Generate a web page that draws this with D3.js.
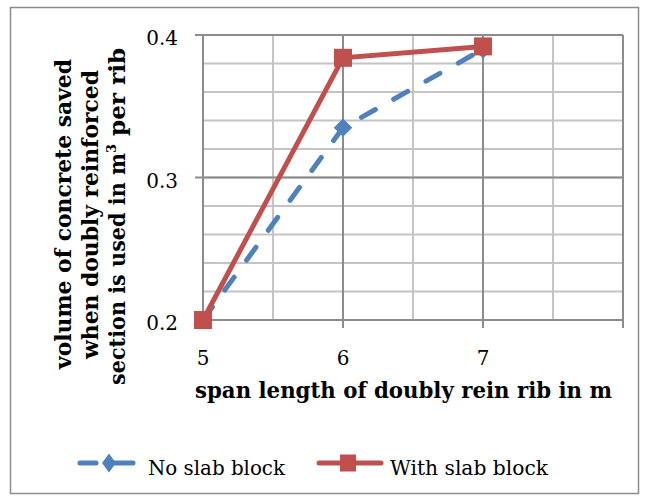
<!DOCTYPE html>
<html>
<head>
<meta charset="utf-8">
<script src="https://cdn.jsdelivr.net/npm/d3@7"></script>
<style>
  body { margin: 0; background: #fff; }
  text { font-family: "DejaVu Serif", "Liberation Serif", serif; fill: #000; }
</style>
</head>
<body>
<svg id="chart" width="645" height="500"></svg>
<script>
// data
var spans = [5, 6, 7];
var noSlab = [0.2, 0.335, 0.39];
var withSlab = [0.2, 0.384, 0.392];
var xTicks = [5, 6, 7, 8];
var xTickLabels = ["5", "6", "7", ""];
var yTicks = [0.2, 0.3, 0.4];
var seriesNames = ["No slab block", "With slab block"];

var svg = d3.select("#chart"),
  margin = { top: 35, left: 203, right: 22, bottom: 180 },
  width = 645 - margin.left - margin.right,
  height = 500 - margin.top - margin.bottom,
  blue = "#4F81BD",
  red = "#C0504D";

// outer frame
svg.append("rect")
  .attr("x", 10.5).attr("y", 7.5)
  .attr("width", 628).attr("height", 486)
  .attr("fill", "none").attr("stroke", "#8c8c8c").attr("stroke-width", 1.5);

var x = d3.scaleLinear().domain([5, 8]).range([0, width]);
var y = d3.scaleLinear().domain([0.2, 0.4]).range([height, 0]);

var g = svg.append("g")
  .attr("transform", "translate(" + margin.left + "," + margin.top + ")");

// minor grid
var minorX = d3.range(5.5, 8, 1), minorY = d3.range(0.22, 0.4, 0.02);
g.selectAll(".minorX").data(minorX).enter().append("line")
  .attr("x1", function(d) { return x(d); }).attr("x2", function(d) { return x(d); })
  .attr("y1", 0).attr("y2", height)
  .attr("stroke", "#c4c4c4").attr("stroke-width", 2);
g.selectAll(".minorY").data(minorY).enter().append("line")
  .attr("x1", 0).attr("x2", width)
  .attr("y1", function(d) { return y(d); }).attr("y2", function(d) { return y(d); })
  .attr("stroke", "#c4c4c4").attr("stroke-width", 2);

// major grid
g.selectAll(".majorX").data(xTicks).enter().append("line")
  .attr("x1", function(d) { return x(d); }).attr("x2", function(d) { return x(d); })
  .attr("y1", 0).attr("y2", height + 8)
  .attr("stroke", "#8c8c8c").attr("stroke-width", 2);
g.selectAll(".majorY").data(yTicks).enter().append("line")
  .attr("x1", -8).attr("x2", width)
  .attr("y1", function(d) { return y(d); }).attr("y2", function(d) { return y(d); })
  .attr("stroke", "#8c8c8c").attr("stroke-width", 2);

// tick labels
g.selectAll(".xl").data(xTicks).enter().append("text")
  .attr("x", function(d) { return x(d); })
  .attr("y", height + 45)
  .attr("text-anchor", "middle")
  .style("font-size", "20px")
  .text(function(d, i) { return xTickLabels[i]; });
g.selectAll(".yl").data(yTicks).enter().append("text")
  .attr("x", -25)
  .attr("y", function(d) { return y(d) + 10; })
  .attr("text-anchor", "end")
  .style("font-size", "20px")
  .text(function(d) { return d3.format(".1f")(d); });

// axis titles
svg.append("text")
  .attr("x", 195).attr("y", 398)
  .attr("textLength", 417).attr("lengthAdjust", "spacingAndGlyphs")
  .style("font-size", "22px").style("font-weight", "bold")
  .text("span length of doubly rein rib in m");

var yt = svg.append("g").attr("transform", "translate(0,214) rotate(-90)");
yt.append("text").attr("x", -155).attr("y", 71)
  .attr("textLength", 310).attr("lengthAdjust", "spacingAndGlyphs")
  .style("font-size", "22px").style("font-weight", "bold")
  .text("volume of concrete  saved");
yt.append("text").attr("x", -145).attr("y", 98)
  .attr("textLength", 289).attr("lengthAdjust", "spacingAndGlyphs")
  .style("font-size", "22px").style("font-weight", "bold")
  .text("when doubly reinforced");
var l3 = yt.append("text").attr("x", -171).attr("y", 125)
  .style("font-size", "22px").style("font-weight", "bold");
l3.append("tspan").attr("textLength", 232).attr("lengthAdjust", "spacingAndGlyphs")
  .text("section is used in m");
l3.append("tspan").attr("dy", -9).style("font-size", "13px").text("3");
l3.append("tspan").attr("dy", 9).attr("textLength", 96).attr("lengthAdjust", "spacingAndGlyphs")
  .text(" per rib");

// lines
var line = d3.line()
  .x(function(d, i) { return x(spans[i]); })
  .y(function(d) { return y(d); });

g.append("path").datum(noSlab)
  .attr("d", line)
  .attr("fill", "none").attr("stroke", blue).attr("stroke-width", 5)
  .attr("stroke-linecap", "round")
  .attr("stroke-dasharray", "16,21");

g.append("path").datum(withSlab)
  .attr("d", line)
  .attr("fill", "none").attr("stroke", red).attr("stroke-width", 5);

var diamond = d3.symbol().type(d3.symbolSquare).size(170);
g.selectAll(".dm").data(noSlab).enter().append("path")
  .attr("d", diamond)
  .attr("transform", function(d, i) { return "translate(" + x(spans[i]) + "," + y(d) + ") rotate(45)"; })
  .attr("fill", blue);

g.selectAll(".sq").data(withSlab).enter().append("rect")
  .attr("x", function(d, i) { return x(spans[i]) - 9; })
  .attr("y", function(d) { return y(d) - 9; })
  .attr("width", 18).attr("height", 18)
  .attr("fill", red);

// legend
var leg = svg.append("g").attr("transform", "translate(0,463)");
leg.append("line").attr("x1", 80).attr("x2", 96).attr("y1", 0).attr("y2", 0)
  .attr("stroke", blue).attr("stroke-width", 5).attr("stroke-linecap", "round");
leg.append("line").attr("x1", 112).attr("x2", 133).attr("y1", 0).attr("y2", 0)
  .attr("stroke", blue).attr("stroke-width", 5).attr("stroke-linecap", "round");
leg.append("path").attr("d", d3.symbol().type(d3.symbolSquare).size(150))
  .attr("transform", "translate(109,0) scale(0.8,1.1) rotate(45)").attr("fill", blue);
leg.append("text").attr("x", 148).attr("y", 12)
  .attr("textLength", 137).attr("lengthAdjust", "spacingAndGlyphs")
  .style("font-size", "21px").text(seriesNames[0]);

leg.append("line").attr("x1", 319).attr("x2", 381).attr("y1", 0).attr("y2", 0)
  .attr("stroke", red).attr("stroke-width", 5).attr("stroke-linecap", "round");
leg.append("rect").attr("x", 340).attr("y", -8.5).attr("width", 16).attr("height", 17)
  .attr("fill", red);
leg.append("text").attr("x", 390).attr("y", 12)
  .attr("textLength", 158).attr("lengthAdjust", "spacingAndGlyphs")
  .style("font-size", "21px").text(seriesNames[1]);
</script>
</body>
</html>
